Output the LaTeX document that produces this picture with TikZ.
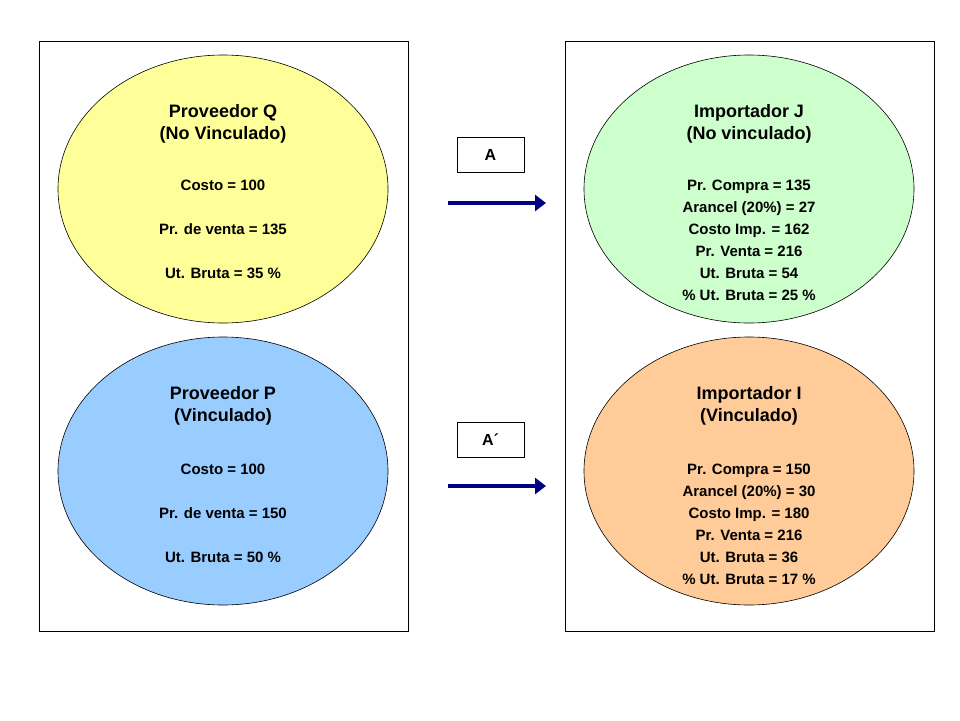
\documentclass[tikz,border=0pt]{standalone}
\usepackage{fontspec}
\setmainfont{Liberation Sans}
\usetikzlibrary{shapes.geometric,arrows.meta}
\definecolor{cy}{HTML}{FFFF99}
\definecolor{cb}{HTML}{99CCFF}
\definecolor{cg}{HTML}{CCFFCC}
\definecolor{co}{HTML}{FFCC99}
\definecolor{navy}{HTML}{000080}
\begin{document}
\begin{tikzpicture}[x=1pt,y=-1pt,
  ell/.style={ellipse,draw=black,line width=0.6pt,minimum width=330pt,minimum height=268pt,inner sep=0pt},
  ttl/.style={font=\bfseries\fontsize{18}{22}\selectfont,align=center},
  bdy/.style={font=\bfseries\fontsize{15}{22}\selectfont,align=center},
  lbl/.style={draw=black,fill=white,minimum width=67pt,minimum height=35pt,inner sep=0pt,font=\bfseries\fontsize{16}{18}\selectfont},
  arr/.style={navy,line width=4.5pt,-{Triangle[length=11pt,width=16pt]}}]
\useasboundingbox (0,0) rectangle (960,720);
\fill[white] (0,0) rectangle (960,720);
\node[draw=black,minimum width=369pt,minimum height=590pt,inner sep=0pt] (L) at (223.5,336) {};
\node[draw=black,minimum width=369pt,minimum height=590pt,inner sep=0pt] (R) at (749.5,336) {};
\node[ell,fill=cy] (Q) at (223,189) {};
\node[ell,fill=cb] (P) at (223,471) {};
\node[ell,fill=cg] (J) at (749,189) {};
\node[ell,fill=co] (I) at (749,471) {};
\node[ttl] (qt) at (223,124) {Proveedor Q\\(No Vinculado)};
\node[bdy] (qb) at (223,229) {Costo = 100\\[22pt]Pr. de venta = 135\\[22pt]Ut. Bruta = 35 \%};
\node[ttl] (pt) at (223,406) {Proveedor P\\(Vinculado)};
\node[bdy] (pb) at (223,513) {Costo = 100\\[22pt]Pr. de venta = 150\\[22pt]Ut. Bruta = 50 \%};
\node[ttl] (jt) at (749,124) {Importador J\\(No vinculado)};
\node[bdy] (jb) at (749,240) {Pr. Compra = 135\\Arancel (20\%) = 27\\Costo Imp. = 162\\Pr. Venta = 216\\Ut. Bruta = 54\\\% Ut. Bruta = 25 \%};
\node[ttl] (it) at (749,406) {Importador I\\(Vinculado)};
\node[bdy] (ib) at (749,524) {Pr. Compra = 150\\Arancel (20\%) = 30\\Costo Imp. = 180\\Pr. Venta = 216\\Ut. Bruta = 36\\\% Ut. Bruta = 17 \%};
\node[lbl] (A) at (490.5,154.5) {A};
\node[lbl] (A2) at (490.5,439.5) {A´};
\coordinate (a1) at (448,203); \coordinate (a2) at (546,203);
\coordinate (b1) at (448,486); \coordinate (b2) at (546,486);
\draw[arr] (a1) -- (a2);
\draw[arr] (b1) -- (b2);
\end{tikzpicture}
\end{document}
